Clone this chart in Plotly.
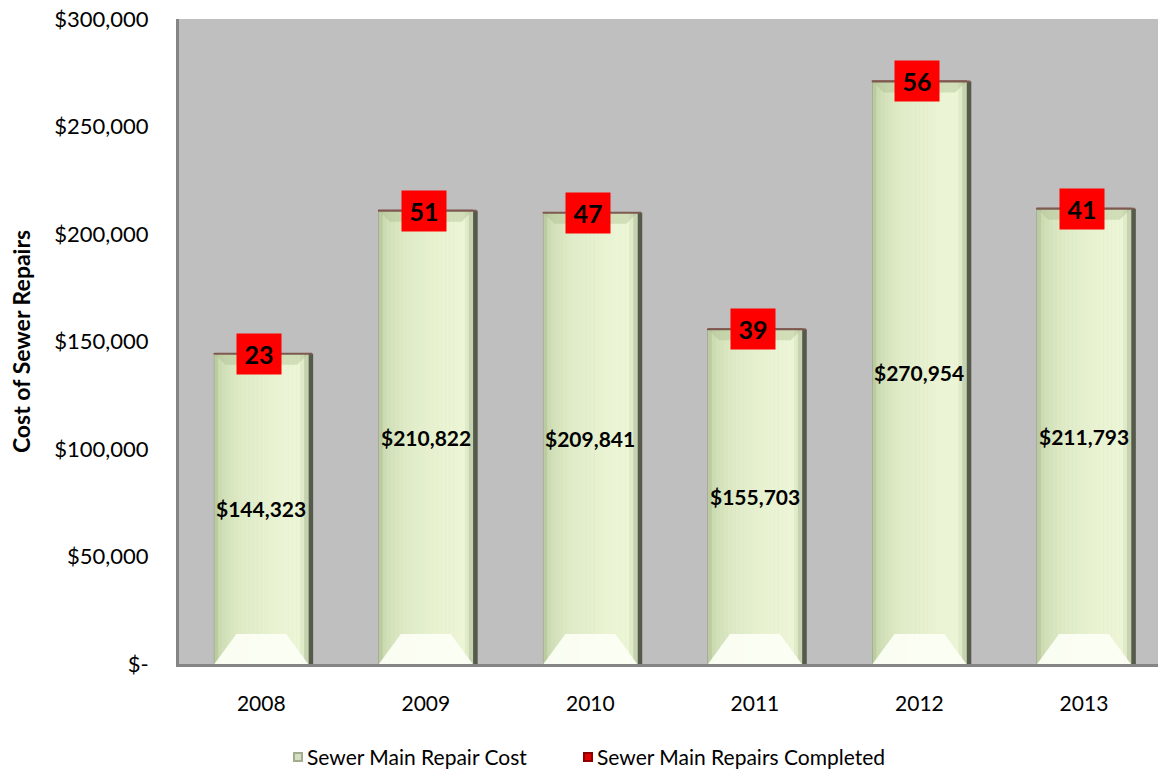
import plotly.graph_objects as go

# Annual sewer main repair figures
years = ["2008", "2009", "2010", "2011", "2012", "2013"]
repair_cost = [144323, 210822, 209841, 155703, 270954, 211793]
repairs_completed = [23, 51, 47, 39, 56, 41]
y_tick_values = [0, 50000, 100000, 150000, 200000, 250000, 300000]
y_tick_labels = ["$-", "$50,000", "$100,000", "$150,000", "$200,000", "$250,000", "$300,000"]
series_names = ["Sewer Main Repair Cost", "Sewer Main Repairs Completed"]

FONT = "Lato"
W, H = 1158, 772
M_L, M_R, M_T, M_B = 179, 0, 19, 108
X_RANGE = [-0.5, 5.45]
Y_RANGE = [0, 300000]

plot_w = W - M_L - M_R
plot_h = H - M_T - M_B
ux = (X_RANGE[1] - X_RANGE[0]) / plot_w   # x data units per pixel
uy = (Y_RANGE[1] - Y_RANGE[0]) / plot_h   # y data units per pixel


def px_x(p):
    """page pixel column -> plot-area paper fraction"""
    return (p - M_L) / plot_w


def px_y(p):
    """page pixel row -> plot-area paper fraction"""
    return (H - M_B - p) / plot_h


bar_w = 0.57
half = bar_w / 2
idx = list(range(len(years)))

fig = go.Figure()

# drop shadow on the right of each column
fig.add_trace(go.Bar(
    x=idx, y=repair_cost, width=bar_w, offset=-half + 5 * ux,
    marker=dict(color="#555a4a", line=dict(width=0)),
    showlegend=False, hoverinfo="skip",
))

# cost columns
fig.add_trace(go.Bar(
    x=idx, y=repair_cost, width=bar_w, offset=-half,
    name=series_names[0],
    marker=dict(color="#c9d4b2", line=dict(width=1, color="#8e9880")),
))

# repair counts, stacked as a thin cap on each column
fig.add_trace(go.Bar(
    x=idx, y=repairs_completed, base=repair_cost, width=bar_w, offset=-half,
    name=series_names[1],
    marker=dict(color="#c00000", line=dict(width=1.5, color="#7a2020")),
))


def lerp(c1, c2, t):
    return tuple(round(a + (b - a) * t) for a, b in zip(c1, c2))


# horizontal shading stops across a column (position, rgb)
stops = [
    (0.00, (180, 196, 152)),
    (0.07, (208, 222, 182)),
    (0.30, (224, 236, 200)),
    (0.70, (234, 244, 212)),
    (0.90, (236, 246, 214)),
    (0.97, (214, 226, 192)),
    (1.00, (160, 172, 140)),
]


def shade(t):
    for (p0, c0), (p1, c1) in zip(stops, stops[1:]):
        if p0 <= t <= p1:
            return lerp(c0, c1, (t - p0) / (p1 - p0))
    return stops[-1][1]


shapes = []
n_strips = 24
for i, c in zip(idx, repair_cost):
    x0 = i - half
    for k in range(n_strips):
        t = (k + 0.5) / n_strips
        r, g, b = shade(t)
        shapes.append(dict(
            type="rect", xref="x", yref="y", layer="above",
            x0=x0 + bar_w * k / n_strips, x1=x0 + bar_w * (k + 1) / n_strips + 0.3 * ux,
            y0=0, y1=c, line=dict(width=0), fillcolor=f"rgb({r},{g},{b})",
        ))
    # bright bevel at the foot of the column
    bh = 30 * uy
    bi = 22 * ux
    shapes.append(dict(
        type="path", xref="x", yref="y", layer="above",
        path=f"M{x0},0 L{x0 + bar_w},0 L{x0 + bar_w - bi},{bh} L{x0 + bi},{bh} Z",
        line=dict(width=0), fillcolor="rgba(252,254,244,0.95)",
    ))
    # darker bevel under the top edge
    th = 11 * uy
    ti = 11 * ux
    shapes.append(dict(
        type="path", xref="x", yref="y", layer="above",
        path=f"M{x0},{c} L{x0 + bar_w},{c} L{x0 + bar_w - ti},{c - th} L{x0 + ti},{c - th} Z",
        line=dict(width=0), fillcolor="rgba(170,188,140,0.40)",
    ))
    # thin cap line on top
    shapes.append(dict(
        type="line", xref="x", yref="y", layer="above",
        x0=x0, x1=x0 + bar_w + 4 * ux, y0=c, y1=c,
        line=dict(width=2, color="#7d5a50"),
    ))

annotations = []
for i, c, n in zip(idx, repair_cost, repairs_completed):
    annotations.append(dict(
        x=i, y=c / 2, xref="x", yref="y", showarrow=False,
        text=f"<b>${c:,}</b>",
        font=dict(family=FONT, size=21, color="#000000"),
    ))
    annotations.append(dict(
        x=i - 2 * ux, y=c, xref="x", yref="y", showarrow=False,
        text=f"<b>{n}</b>", width=44, height=40, borderpad=0,
        bgcolor="#ff0000", valign="middle",
        font=dict(family=FONT, size=25, color="#000000"),
    ))

# legend row below the axis: small square key followed by the series name
legend_keys = [
    (293, "#a3ad8e", "#d6dfc4", series_names[0]),
    (583, "#8a0000", "#e00000", series_names[1]),
]
legend_row = 757
for left, edge, face, label in legend_keys:
    shapes.append(dict(
        type="rect", xref="paper", yref="paper", layer="above",
        x0=px_x(left), x1=px_x(left + 10), y0=px_y(legend_row + 5), y1=px_y(legend_row - 5),
        line=dict(width=0), fillcolor=edge,
    ))
    shapes.append(dict(
        type="rect", xref="paper", yref="paper", layer="above",
        x0=px_x(left + 2), x1=px_x(left + 8), y0=px_y(legend_row + 3), y1=px_y(legend_row - 3),
        line=dict(width=0), fillcolor=face,
    ))
    annotations.append(dict(
        x=px_x(left + 12), y=px_y(legend_row), xref="paper", yref="paper",
        xanchor="left", yanchor="middle", showarrow=False, text=label,
        font=dict(family=FONT, size=21, color="#000000"),
    ))

fig.update_layout(
    width=W, height=H,
    margin=dict(l=M_L, r=M_R, t=M_T, b=M_B),
    paper_bgcolor="#ffffff",
    plot_bgcolor="#bfbfbf",
    barmode="overlay",
    font=dict(family=FONT, size=20, color="#000000"),
    shapes=shapes,
    annotations=annotations,
    showlegend=False,
    xaxis=dict(
        range=X_RANGE, tickmode="array", tickvals=idx, ticktext=years,
        showgrid=False, zeroline=False, ticks="",
        showline=True, linewidth=3, linecolor="#858585",
        ticklabelstandoff=19,
        tickfont=dict(family=FONT, size=21, color="#000000"),
    ),
    yaxis=dict(
        range=Y_RANGE, tickmode="array", tickvals=y_tick_values, ticktext=y_tick_labels,
        showgrid=False, zeroline=False, ticks="",
        showline=True, linewidth=3, linecolor="#858585",
        ticklabelstandoff=23,
        tickfont=dict(family=FONT, size=22, color="#000000"),
        title=dict(text="<b>Cost of Sewer Repairs</b>", standoff=18,
                   font=dict(family=FONT, size=23, color="#000000")),
    ),
)

fig.write_html("out.html")
